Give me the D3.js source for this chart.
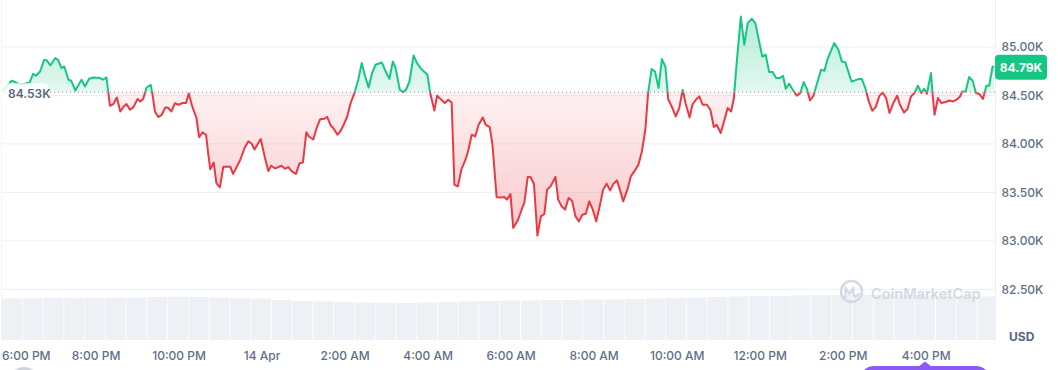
<!DOCTYPE html>
<html lang="en">
<head>
<meta charset="UTF-8">
<title>BTC price | 1D</title>
<script src="https://cdn.jsdelivr.net/npm/d3@7"></script>
<style>
  body { margin: 0; background: #fff; }
  svg { display: block; font-family: Inter, "Noto Sans", sans-serif; }
</style>
</head>
<body>
<div id="chart"></div>
<script>
// minutes after 13 Apr 17:44, and price in USD
var minutes = [0, 14, 19, 26, 33, 40, 45, 49, 55, 61, 65, 70, 77, 81, 86, 90, 96, 100, 106, 115, 120, 126, 132, 142, 146, 151,
  156, 161, 166, 171, 176, 180, 185, 190, 196, 200, 204, 209, 215, 218, 221, 226, 231, 236, 240, 245, 250, 255, 261, 266, 270, 275,
  281, 285, 290, 295, 298, 301, 306, 310, 315, 320, 330, 334, 344, 351, 356, 361, 365, 374, 380, 385, 389, 395, 404, 409, 414, 419,
  425, 430, 435, 440, 444, 450, 455, 460, 466, 470, 475, 479, 485, 489, 494, 499, 504, 510, 515, 520, 525, 530, 535, 540, 549, 554,
  560, 565, 569, 575, 580, 584, 589, 595, 600, 605, 610, 615, 619, 625, 629, 635, 640, 645, 650, 654, 659, 664, 670, 674, 679, 684,
  689, 695, 699, 705, 709, 715, 722, 726, 730, 735, 739, 746, 752, 755, 760, 764, 769, 774, 779, 784, 788, 793, 800, 804, 809, 814,
  819, 824, 829, 834, 839, 844, 849, 854, 859, 864, 869, 874, 879, 884, 889, 894, 898, 904, 909, 914, 920, 925, 930, 934, 939, 944,
  949, 954, 959, 963, 968, 974, 979, 984, 988, 994, 998, 1003, 1008, 1013, 1019, 1024, 1029, 1033, 1039, 1044, 1049, 1054, 1058,
  1062, 1068, 1073, 1078, 1084, 1089, 1093, 1099, 1104, 1109, 1114, 1119, 1124, 1129, 1133, 1138, 1143, 1149, 1154, 1159, 1164,
  1168, 1173, 1178, 1184, 1189, 1193, 1197, 1203, 1209, 1214, 1219, 1228, 1233, 1238, 1243, 1248, 1253, 1258, 1263, 1268, 1273,
  1278, 1283, 1288, 1294, 1298, 1304, 1309, 1314, 1319, 1324, 1329, 1333, 1337, 1343, 1345, 1348, 1353, 1358, 1364, 1369, 1375,
  1380, 1385, 1388, 1393, 1398, 1403, 1408, 1413, 1418, 1423, 1427, 1432, 1434];
var prices = [84541, 84652, 84638, 84610, 84621, 84634, 84724, 84703, 84747, 84868, 84861, 84809, 84886, 84868, 84782, 84799, 84662,
  84652, 84552, 84662, 84593, 84672, 84686, 84679, 84662, 84686,
  84394, 84411, 84479, 84335, 84387, 84411, 84353, 84380, 84463, 84438, 84463, 84582, 84610, 84490, 84335, 84277, 84301, 84376,
  84373, 84335, 84420, 84404, 84422, 84422, 84520, 84387,
  84270, 84069, 84119, 84092, 83906, 83739, 83809, 83593, 83551, 83765, 83765, 83691, 83829, 83963, 84026, 84002, 83943, 84050,
  83860, 83721, 83775, 83747, 83775, 83744, 83760, 83716,
  83691, 83799, 83809, 84121, 84074, 84046, 84169, 84255, 84260, 84280, 84193, 84162, 84095, 84129, 84198, 84283, 84422, 84535,
  84662, 84834, 84696, 84582, 84731, 84817, 84840, 84758,
  84672, 84851, 84782, 84559, 84535, 84559, 84644, 84912, 84834, 84782, 84747, 84713, 84525, 84345, 84497, 84456, 84422, 84456,
  84428, 83579, 83562, 83734, 83837, 83930, 84095, 84077,
  84198, 84273, 84198, 84174, 83992, 83450, 83448, 83453, 83425, 83483, 83133, 83218, 83339, 83391, 83659, 83659, 83587, 83054,
  83253, 83277, 83528, 83562, 83659, 83425, 83356, 83322,
  83442, 83414, 83253, 83201, 83270, 83280, 83407, 83322, 83201, 83356, 83528, 83590, 83521, 83590, 83624, 83510, 83407, 83528,
  83665, 83716, 83786, 83923, 84146, 84525, 84772, 84747,
  84576, 84875, 84796, 84463, 84387, 84283, 84370, 84559, 84422, 84273, 84404, 84456, 84490, 84404, 84404, 84353, 84174, 84198,
  84112, 84239, 84370, 84335, 84473,
  84834, 85314, 85023, 85246, 85291, 85246, 85108, 84902, 84920, 84741, 84741, 84679, 84679, 84703, 84569, 84621, 84559, 84497,
  84525, 84638, 84559,
  84448, 84497, 84621, 84765, 84755, 84868, 84937, 85040, 84971, 84851, 84844, 84644, 84655, 84669, 84669, 84576, 84438, 84342,
  84380, 84490, 84531,
  84473, 84319, 84414, 84497, 84404, 84325, 84360, 84490, 84525, 84600, 84525, 84569, 84518, 84731, 84531, 84301, 84473, 84422,
  84432, 84448, 84438,
  84456, 84490, 84541, 84541, 84690, 84652, 84525, 84514, 84463, 84600, 84600, 84799, 84790];
// 24h volume (billion USD), one value per 30 minutes
var volumes = [21.7, 21.9, 22.0, 21.9, 21.8, 22.1, 22.1, 22.4, 22.5, 22.4, 22.1, 21.9, 21.6, 20.8, 20.3, 20.1, 19.8,
  19.5, 19.3, 19.3, 19.5, 19.8, 20.1, 20.3, 20.6, 20.6, 20.8, 20.8, 21.1, 21.1, 21.4, 21.6, 21.9, 22.1,
  22.4, 22.7, 22.9, 22.9, 23.2, 23.4, 23.4, 23.7, 23.7, 23.4, 23.2, 22.9, 22.9, 22.7];
var openPrice = 84533;
var lastPrice = 84790;
var yTicks = [82500, 83000, 83500, 84000, 84500, 85000];
var xLabels = ["6:00 PM", "8:00 PM", "10:00 PM", "14 Apr", "2:00 AM", "4:00 AM", "6:00 AM", "8:00 AM",
  "10:00 AM", "12:00 PM", "2:00 PM", "4:00 PM"];

var W = 1058, H = 370;
var green = "#16c784", red = "#ea3943";
var start = new Date(2025, 3, 13, 17, 44);
var data = minutes.map(function(m, i) {
    return { t: d3.timeMinute.offset(start, m), p: prices[i] };
});

var x = d3.scaleTime().domain([start, d3.timeMinute.offset(start, 1434)]).range([2, 994]);
var y = d3.scaleLinear().domain([82500, 85000]).range([289.3, 47]);
var yv = d3.scaleLinear().domain([0, 25]).range([340, 292]);
var y0 = y(openPrice);

var svg = d3.select("#chart").append("svg")
    .attr("width", W)
    .attr("height", H);

var defs = svg.append("defs");
var gUp = defs.append("linearGradient").attr("id", "gUp")
    .attr("gradientUnits", "userSpaceOnUse")
    .attr("x1", 0).attr("x2", 0).attr("y1", y(85300)).attr("y2", y0);
gUp.append("stop").attr("offset", 0).attr("stop-color", green).attr("stop-opacity", 0.32);
gUp.append("stop").attr("offset", 1).attr("stop-color", green).attr("stop-opacity", 0.12);
var gDown = defs.append("linearGradient").attr("id", "gDown")
    .attr("gradientUnits", "userSpaceOnUse")
    .attr("x1", 0).attr("x2", 0).attr("y1", y0).attr("y2", y(83050));
gDown.append("stop").attr("offset", 0).attr("stop-color", red).attr("stop-opacity", 0.07);
gDown.append("stop").attr("offset", 1).attr("stop-color", red).attr("stop-opacity", 0.28);

defs.append("clipPath").attr("id", "clipUp")
    .append("rect").attr("x", 0).attr("y", 0).attr("width", W).attr("height", y0);
defs.append("clipPath").attr("id", "clipDown")
    .append("rect").attr("x", 0).attr("y", y0).attr("width", W).attr("height", H - y0);

// grid
svg.append("g").selectAll("line")
    .data(yTicks)
    .enter()
    .append("line")
    .attr("x1", 2).attr("x2", 995)
    .attr("y1", function(d) { return y(d); })
    .attr("y2", function(d) { return y(d); })
    .attr("stroke", "#eceff3")
    .attr("stroke-width", 1);

svg.append("line").attr("x1", 995.5).attr("x2", 995.5).attr("y1", 0).attr("y2", 341)
    .attr("stroke", "#eceff3");
svg.append("line").attr("x1", 1.5).attr("x2", 1.5).attr("y1", 0).attr("y2", 341)
    .attr("stroke", "#f1f3f6");

// volume
var slot = x(d3.timeMinute.offset(start, 30)) - x(start);
svg.append("g").selectAll("rect")
    .data(volumes)
    .enter()
    .append("rect")
    .attr("x", function(d, i) { return x(d3.timeMinute.offset(start, i * 30)); })
    .attr("y", function(d) { return yv(d); })
    .attr("width", function(d, i) { return Math.min(slot - 0.8, 995 - x(d3.timeMinute.offset(start, i * 30))); })
    .attr("height", function(d) { return yv(0) - yv(d); })
    .attr("fill", "#edf0f4");

// watermark
var wm = svg.append("g").attr("fill", "none").attr("stroke", "#d3d9e3");
wm.append("circle").attr("cx", 851.5).attr("cy", 291.5).attr("r", 10.5).attr("stroke-width", 2.4);
wm.append("path")
    .attr("d", "M845.5,297 L845.5,287.5 L849.5,294 L853.5,287.5 L853.5,295 Q856,298 858.5,294")
    .attr("stroke-width", 2.2).attr("stroke-linejoin", "round").attr("stroke-linecap", "round");
svg.append("text").attr("x", 871).attr("y", 293.5)
    .attr("dy", "0.35em")
    .attr("fill", "#d3d9e3")
    .attr("font-size", 14.5)
    .attr("font-weight", 600)
    .text("CoinMarketCap");

// areas
var area = d3.area()
    .x(function(d) { return x(d.t); })
    .y0(y0)
    .y1(function(d) { return y(d.p); });
svg.append("path").datum(data).attr("d", area)
    .attr("fill", "url(#gUp)").attr("clip-path", "url(#clipUp)");
svg.append("path").datum(data).attr("d", area)
    .attr("fill", "url(#gDown)").attr("clip-path", "url(#clipDown)");

// baseline
svg.append("line").attr("x1", 2).attr("x2", 995).attr("y1", y0).attr("y2", y0)
    .attr("stroke", "#8f97a5").attr("stroke-width", 1).attr("stroke-dasharray", "1,3");

// price line
var line = d3.line()
    .x(function(d) { return x(d.t); })
    .y(function(d) { return y(d.p); });
svg.append("path").datum(data).attr("d", line)
    .attr("fill", "none").attr("stroke", green).attr("stroke-width", 2)
    .attr("stroke-linejoin", "round").attr("clip-path", "url(#clipUp)");
svg.append("path").datum(data).attr("d", line)
    .attr("fill", "none").attr("stroke", red).attr("stroke-width", 2)
    .attr("stroke-linejoin", "round").attr("clip-path", "url(#clipDown)");

// open label
svg.append("rect").attr("x", 1).attr("y", y0 - 9).attr("width", 48).attr("height", 18).attr("rx", 5)
    .attr("fill", "#fff").attr("fill-opacity", 0.85);
svg.append("text").attr("x", 8).attr("y", y0 + 1.5).attr("dy", "0.35em")
    .attr("fill", "#58667e").attr("font-size", 12).attr("font-weight", 600)
    .text((openPrice / 1000).toFixed(2) + "K");

// y axis labels
svg.append("g").selectAll("text")
    .data(yTicks)
    .enter()
    .append("text")
    .attr("x", 1001.5)
    .attr("y", function(d) { return y(d); })
    .attr("dy", "0.35em")
    .attr("fill", "#616e85")
    .attr("font-size", 12)
    .attr("font-weight", 500)
    .text(function(d) { return (d / 1000).toFixed(2) + "K"; });

svg.append("text").attr("x", 1009).attr("y", 337).attr("dy", "0.35em")
    .attr("fill", "#58667e").attr("font-size", 12).attr("font-weight", 700).text("USD");

// last price tag
svg.append("rect").attr("x", 995).attr("y", y(lastPrice) - 12.5).attr("width", 52).attr("height", 25).attr("rx", 4)
    .attr("fill", green);
svg.append("text").attr("x", 1021).attr("y", y(lastPrice)).attr("dy", "0.35em")
    .attr("text-anchor", "middle").attr("fill", "#fff")
    .attr("font-size", 12).attr("font-weight", 700)
    .text((lastPrice / 1000).toFixed(2) + "K");

// x axis labels
var ticks = x.ticks(d3.timeHour.every(2));
svg.append("g").selectAll("text")
    .data(ticks)
    .enter()
    .append("text")
    .attr("x", function(d, i) { return i === 0 ? 2 : x(d); })
    .attr("y", 356)
    .attr("dy", "0.35em")
    .attr("text-anchor", function(d, i) { return i === 0 ? "start" : "middle"; })
    .attr("fill", "#616e85")
    .attr("font-size", 12)
    .attr("font-weight", 500)
    .text(function(d, i) { return xLabels[i]; });

// bottom controls (partly cut off)
svg.append("circle").attr("cx", 24).attr("cy", 383).attr("r", 16).attr("fill", "#cfd3db");
svg.append("rect").attr("x", 860).attr("y", 366).attr("width", 130).attr("height", 30).attr("rx", 14)
    .attr("fill", "#8a5cf5");
svg.append("path").attr("d", "M918,367 L925,361.5 L932,367 Z").attr("fill", "#8a5cf5");
</script>
</body>
</html>
